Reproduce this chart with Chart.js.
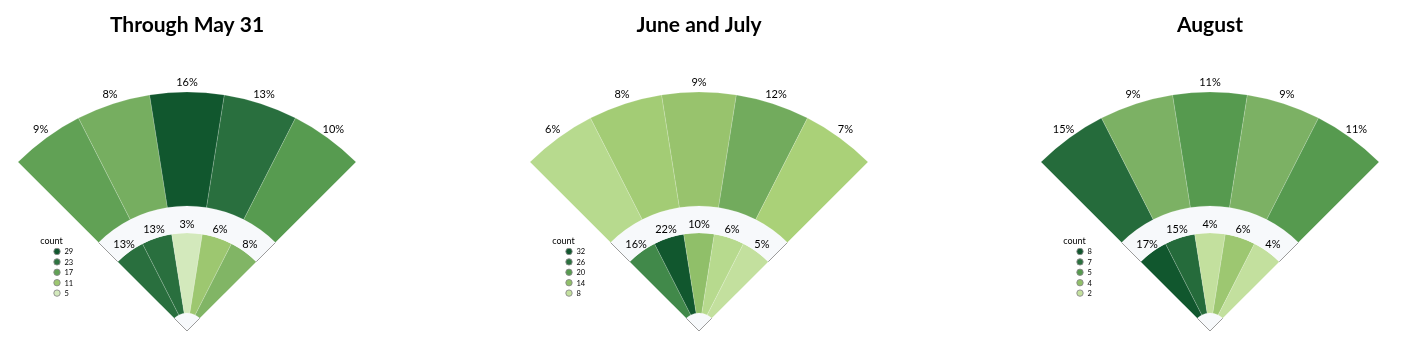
<!DOCTYPE html>
<html>
<head>
<meta charset="utf-8">
<script src="https://cdn.jsdelivr.net/npm/chart.js@4.4.1/dist/chart.umd.min.js"></script>
<style>
  html, body { margin: 0; padding: 0; background: #fff; width: 1409px; height: 353px; overflow: hidden; }
  .wrap { position: absolute; top: 0; width: 360px; height: 353px; }
  canvas { display: block; }
</style>
</head>
<body>
<div class="wrap" style="left:7px"><canvas id="c0" width="360" height="353"></canvas></div>
<div class="wrap" style="left:519px"><canvas id="c1" width="360" height="353"></canvas></div>
<div class="wrap" style="left:1030px"><canvas id="c2" width="360" height="353"></canvas></div>
<script>
// ---------- data ----------
const titles = ['Through May 31', 'June and July', 'August'];
const outfieldZones = ['Left', 'Left-center', 'Center', 'Right-center', 'Right'];
const infieldZones = ['Third', 'Short', 'Middle', 'Second', 'First'];

// Through May 31
const outPct1 = [9, 8, 16, 13, 10];
const inPct1 = [13, 13, 3, 6, 8];
const outCount1 = [17, 15, 29, 24, 18];
const inCount1 = [24, 24, 5, 11, 14];
const legendValues1 = [29, 23, 17, 11, 5];
const legendLabels1 = ['29', '23', '17', '11', '5'];

// June and July
const outPct2 = [6, 8, 9, 12, 7];
const inPct2 = [16, 22, 10, 6, 5];
const outCount2 = [9, 11, 13, 17, 10];
const inCount2 = [23, 32, 14, 9, 8];
const legendValues2 = [32, 26, 20, 14, 8];
const legendLabels2 = ['32', '26', '20', '14', '8'];

// August
const outPct3 = [15, 9, 11, 9, 11];
const inPct3 = [17, 15, 4, 6, 4];
const outCount3 = [7, 4, 5, 4, 5];
const inCount3 = [8, 7, 2, 3, 2];
const legendValues3 = [8, 6.5, 5, 3.5, 2];
const legendLabels3 = ['8', '7', '5', '4', '2'];

// ---------- colour scale (count / max -> green) ----------
const rampStops = [
  [0, '#eef7e6'], [0.17, '#d4e9bd'], [0.25, '#c3e09e'], [0.28, '#b8da8f'],
  [0.31, '#aad178'], [0.36, '#a0c973'], [0.41, '#97c36c'], [0.44, '#8fbf69'],
  [0.5, '#7cb164'], [0.53, '#72ab5d'], [0.625, '#569a4f'], [0.72, '#41894a'],
  [0.8, '#2c7240'], [0.875, '#256b3b'], [1, '#11572e']
];
function hexToRgb(h) { return [1, 3, 5].map(i => parseInt(h.substr(i, 2), 16)); }
function ramp(t) {
  t = Math.max(0, Math.min(1, t));
  for (let i = 1; i < rampStops.length; i++) {
    const [t1, c1] = rampStops[i];
    const [t0, c0] = rampStops[i - 1];
    if (t <= t1) {
      const f = (t - t0) / (t1 - t0);
      const a = hexToRgb(c0), b = hexToRgb(c1);
      return 'rgb(' + a.map((v, k) => Math.round(v + (b[k] - v) * f)).join(',') + ')';
    }
  }
  return rampStops[rampStops.length - 1][1];
}

const FIELD_BG = '#f7f9fb';
const EDGE = '#9b9b9b';
const SEP = 'rgba(255,255,255,0.28)';

// ---------- decorations: labels, edges, colour legend ----------
const fanDecor = {
  id: 'fanDecor',
  afterDraw(chart) {
    const cfg = chart.config.options.fan;
    const ctx = chart.ctx;
    const outMeta = chart.getDatasetMeta(0);
    const gapArc = chart.getDatasetMeta(1).data[0];
    const inMeta = chart.getDatasetMeta(2);
    const homeArc = chart.getDatasetMeta(3).data[0];
    const cx = gapArc.x, cy = gapArc.y;
    ctx.save();
    // grey foul-line edges
    ctx.strokeStyle = EDGE;
    ctx.lineWidth = 1;
    [gapArc.startAngle, gapArc.endAngle].forEach(a => {
      const c = Math.cos(a), s = Math.sin(a);
      [[0, homeArc.outerRadius], [gapArc.innerRadius, gapArc.outerRadius]].forEach(([r0, r1]) => {
        ctx.beginPath();
        ctx.moveTo(cx + c * r0, cy + s * r0);
        ctx.lineTo(cx + c * r1, cy + s * r1);
        ctx.stroke();
      });
    });
    // percentage labels
    ctx.fillStyle = '#000';
    ctx.font = '11px Lato';
    ctx.textAlign = 'center';
    ctx.textBaseline = 'middle';
    const put = (meta, pct, gap) => {
      meta.data.forEach((arc, i) => {
        const m = (arc.startAngle + arc.endAngle) / 2;
        const r = arc.outerRadius + gap;
        ctx.fillText(pct[i] + '%', cx + Math.cos(m) * r, cy + Math.sin(m) * r);
      });
    };
    put(outMeta, cfg.outPct, 10);
    put(inMeta, cfg.inPct, 9);
    // colour legend
    const lx = cx - 130, ly = cy - 79.5;
    ctx.font = '9px Lato';
    ctx.textAlign = 'center';
    ctx.fillText('count', cx - 135.5, cy - 89.5);
    ctx.font = '7.5px Lato';
    ctx.textAlign = 'left';
    cfg.legendValues.forEach((v, i) => {
      const y = ly + i * 10.4;
      ctx.beginPath();
      ctx.arc(lx, y, 3.2, 0, Math.PI * 2);
      ctx.fillStyle = cfg.color(v);
      ctx.fill();
      ctx.strokeStyle = '#8a8a8a';
      ctx.lineWidth = 0.9;
      ctx.stroke();
      ctx.fillStyle = '#000';
      ctx.fillText(cfg.legendLabels[i], lx + 7.5, y + 0.5);
    });
    ctx.restore();
  }
};

function makeFan(id, title, outPct, inPct, outCount, inCount, legendValues, legendLabels) {
  const max = Math.max(...legendValues);
  const color = v => ramp(v / max);
  new Chart(document.getElementById(id), {
    type: 'doughnut',
    data: {
      labels: outfieldZones,
      datasets: [
        { label: 'outfield', data: outfieldZones.map(() => 1), backgroundColor: outCount.map(color),
          borderColor: SEP, borderWidth: 0.6, weight: 114 },
        { label: 'infield grass', data: [1], backgroundColor: FIELD_BG, borderWidth: 0, weight: 27 },
        { label: 'infield', data: infieldZones.map(() => 1), backgroundColor: inCount.map(color),
          borderColor: SEP, borderWidth: 0.6, weight: 80 },
        { label: 'home', data: [1], backgroundColor: FIELD_BG, borderWidth: 0, weight: 18 }
      ]
    },
    options: {
      responsive: false,
      animation: false,
      rotation: -45,
      circumference: 90,
      cutout: 0,
      radius: 239,
      layout: { padding: 0 },
      events: [],
      fan: { outPct, inPct, legendValues, legendLabels, color },
      plugins: {
        legend: { display: false },
        tooltip: { enabled: false },
        title: {
          display: true, text: title, color: '#000',
          font: { family: 'Lato', size: 21, weight: 'bold', lineHeight: 1.2 },
          padding: { top: 12.6, bottom: 32.2 }
        }
      }
    },
    plugins: [fanDecor]
  });
}

makeFan('c0', titles[0], outPct1, inPct1, outCount1, inCount1, legendValues1, legendLabels1);
makeFan('c1', titles[1], outPct2, inPct2, outCount2, inCount2, legendValues2, legendLabels2);
makeFan('c2', titles[2], outPct3, inPct3, outCount3, inCount3, legendValues3, legendLabels3);
</script>
</body>
</html>
